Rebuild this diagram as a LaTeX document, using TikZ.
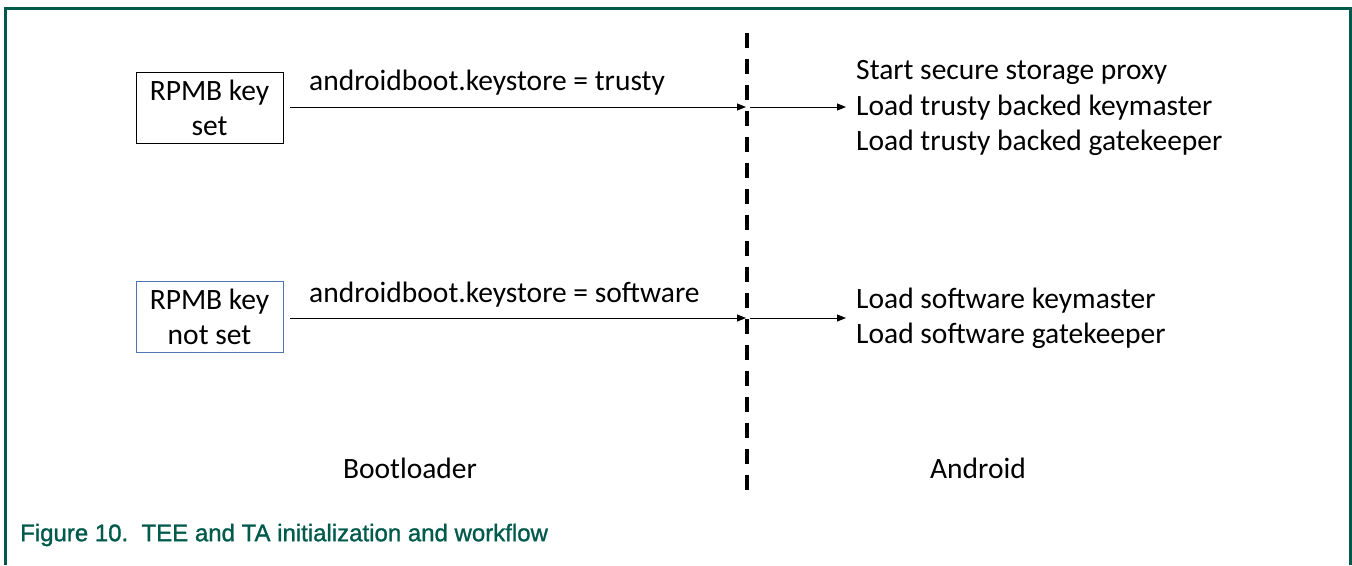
\documentclass[tikz,border=0pt]{standalone}
\usepackage{fontspec}
\setmainfont{Carlito}
\newfontfamily\capfont[FakeBold=1.2]{Liberation Sans}
\usetikzlibrary{arrows.meta}
\definecolor{framegreen}{RGB}{0,90,75}
\definecolor{boxblue}{RGB}{80,115,180}
\begin{document}
\begin{tikzpicture}[x=1pt,y=-1pt,
  keybox/.style={draw=black, line width=1pt, minimum width=147pt, minimum height=71pt, inner sep=0pt, align=center, font=\fontsize{29.5}{35}\selectfont},
  lbl/.style={font=\fontsize{29.5}{35}\selectfont, inner sep=0pt},
  flow/.style={-{Triangle[length=9pt,width=7pt]}, line width=1pt},
  sep/.style={line width=3.5pt, dash pattern=on 15pt off 11pt}]
\useasboundingbox (0,0) rectangle (1352,565);
% frame
\draw[framegreen, line width=3pt] (5,565) -- (5,8.5) -- (1350.5,8.5) -- (1350.5,565);
% boxes
\node[keybox] (b1) at (209.5,107.5) {RPMB key\\set};
\node[keybox, draw=boxblue] (b2) at (209.5,317) {RPMB key\\not set};
% separator
\coordinate (top) at (747,33);
\coordinate (bot) at (747,494);
\draw[sep] (top) -- (bot);
% junctions
\coordinate (j1) at (747,107);
\coordinate (j2) at (747,318);
\coordinate (e1) at (846,107);
\coordinate (e2) at (846,318);
\coordinate (s1) at (290,107);
\coordinate (s2) at (290,318);
\draw[flow] (s1) -- ([xshift=-1pt]j1);
\draw[flow] ([xshift=3pt]j1) -- (e1);
\draw[flow] (s2) -- ([xshift=-1pt]j2);
\draw[flow] ([xshift=3pt]j2) -- (e2);
% labels on arrows
\node[lbl, anchor=west] (l1) at (309,83) {androidboot.keystore = trusty};
\node[lbl, anchor=west] (l2) at (309,295) {androidboot.keystore = software};
% right texts
\node[lbl, anchor=west] (r1) at (856,72) {Start secure storage proxy};
\node[lbl, anchor=west] (r2) at (856,107.5) {Load trusty backed keymaster};
\node[lbl, anchor=west] (r3) at (856,143) {Load trusty backed gatekeeper};
\node[lbl, anchor=west] (r4) at (856,300.5) {Load software keymaster};
\node[lbl, anchor=west] (r5) at (856,336) {Load software gatekeeper};
% side labels
\node[lbl] (bl) at (410,468) {Bootloader};
\node[lbl] (an) at (978,468) {Android};
% caption
\node[anchor=west, inner sep=0pt, text=framegreen, font=\capfont\fontsize{24}{28}\selectfont] (cap) at (20,535) {Figure 10.\ \ TEE and TA initialization and workflow};
\end{tikzpicture}
\end{document}
